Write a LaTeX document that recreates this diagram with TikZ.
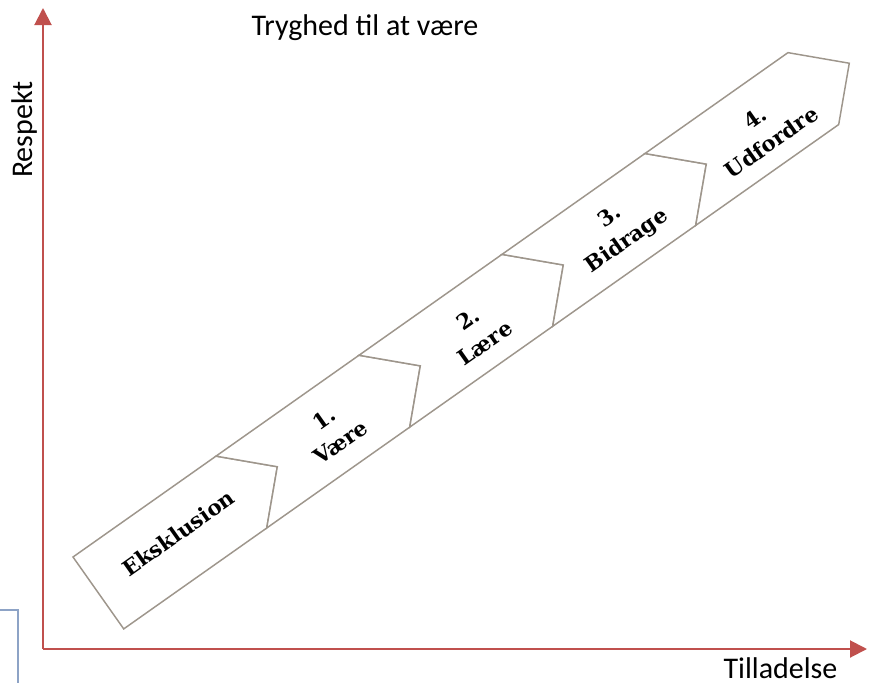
\documentclass[tikz,border=0pt]{standalone}
\usepackage{fontspec}
\setmainfont{Carlito}
\newfontfamily\slabfont{DejaVu Serif}
\usetikzlibrary{arrows.meta}
\definecolor{axisred}{HTML}{C0504D}
\definecolor{stepline}{HTML}{9E968C}
\definecolor{boxblue}{HTML}{8DA3C6}

\begin{document}
\begin{tikzpicture}[x=0.75pt, y=-0.75pt,
    axis/.style={axisred, line width=1.5pt, -{Triangle[length=12.75pt,width=12.75pt]}},
    stepshape/.style={draw=stepline, fill=white, line width=1.1pt, line join=miter},
    steptext/.style={font=\slabfont\bfseries\fontsize{16}{22}\selectfont, align=center, rotate=35.2},
    axislabel/.style={font=\fontsize{22.5}{27}\selectfont, inner sep=0pt}]
    \useasboundingbox (0,0) rectangle (869,683);

    % Corner of the box at the left edge
    \draw[boxblue, line width=1.1pt] (-5,610) -- (18,610) -- (18,690);

    % Axes
    \coordinate (O) at (43,649);
    \coordinate (ytop) at (43,8);
    \coordinate (xend) at (867,649);
    \draw[axis] (O) -- (ytop);
    \draw[axis] (O) -- (xend);

    \node[axislabel, anchor=base] (title) at (365,35) {Tryghed til at være};
    \node[axislabel, anchor=base, rotate=90] (ylabel) at (32.5,129.5) {Respekt};
    \node[axislabel, anchor=base] (xlabel) at (780.5,678) {Tilladelse};

    % Steps along the band
    \begin{scope}[shift={(73,557)}, rotate=35.2]
        % first step has a flat tail
        \draw[stepshape] (0,0) -- (175,0) -- (219,44) -- (175,88) -- (0,88) -- cycle;
        \foreach \i in {1,...,4} {
            \pgfmathsetmacro{\a}{175*\i}
            \pgfmathsetmacro{\b}{175*\i+175}
            \draw[stepshape] (\a,0) -- (\b,0) -- (\b+44,44) -- (\b,88) -- (\a,88) -- (\a+44,44) -- cycle;
        }

        \node[steptext] (s0) at (100,41) {Eksklusion};
        \node[steptext] (s1) at (285,46) {1.\\Være};
        \node[steptext] (s2) at (460,48) {2.\\Lære};
        \node[steptext] (s3) at (635,47) {3.\\Bidrage};
        \node[steptext] (s4) at (810,49) {4.\\Udfordre};
    \end{scope}
\end{tikzpicture}
\end{document}
